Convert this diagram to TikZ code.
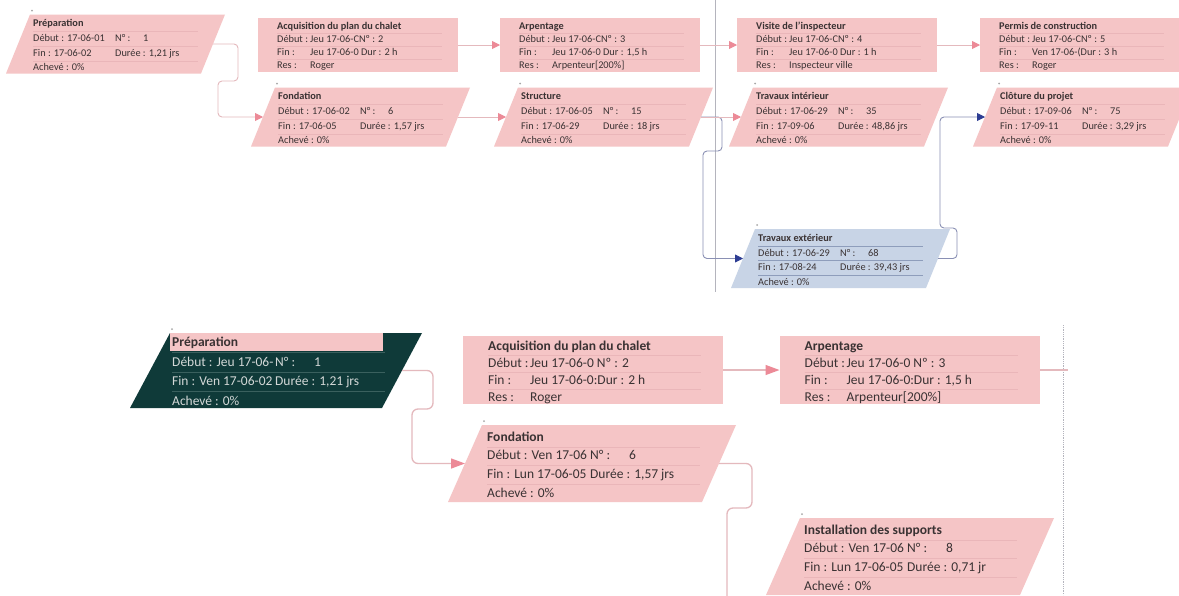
\documentclass[tikz,border=0pt]{standalone}
\usepackage{fontspec}
\setmainfont{Carlito}
\usepackage{colortbl}
\usetikzlibrary{positioning,arrows.meta}

\definecolor{rose}{HTML}{F5C5C6}
\definecolor{roseTrait}{HTML}{EAB6B9}
\definecolor{roseLien}{HTML}{E4B9BD}
\definecolor{roseFleche}{HTML}{EC8A97}
\definecolor{bleuBoite}{HTML}{C8D4E6}
\definecolor{bleuTrait}{HTML}{8E9DBB}
\definecolor{bleuLien}{HTML}{8A90B4}
\definecolor{bleuFleche}{HTML}{2D3D93}
\definecolor{vertFonce}{HTML}{0F3A39}
\definecolor{vertTrait}{HTML}{3A605E}
\definecolor{clair}{HTML}{D3D8D7}
\definecolor{texte}{HTML}{3A3233}
\definecolor{grisSaut}{HTML}{B4B4BD}
\setlength\arrayrulewidth{0.5pt}

% cellules des lignes
\newcommand\celD[1]{\makebox[82pt][l]{#1}}
\newcommand\celN[1]{\makebox[28pt][l]{#1}}
\newcommand\celDb[1]{\makebox[103pt][l]{#1}}
\newcommand\celNb[1]{\makebox[39pt][l]{#1}}
\newcommand\celL[1]{\makebox[33pt][l]{#1}}
\newcommand\celLb[1]{\makebox[42pt][l]{#1}}
\newcommand\lignesH[4]{\begin{tabular}{@{}p{165pt}@{}}\textbf{#1}\\\hline #2\\\hline #3\\\hline #4\end{tabular}}
\newcommand\lignesB[4]{\begin{tabular}{@{}p{213pt}@{}}\textbf{#1}\\\hline #2\\\hline #3\\\hline #4\end{tabular}}
\newcommand\parallelo[3]{%
  \fill[#3] ([xshift=-#2pt]#1.south west) -- ([xshift=#2pt]#1.north west)
    -- ([xshift=#2pt]#1.north east) -- ([xshift=-#2pt]#1.south east) -- cycle;}

\tikzset{
  boite/.style 2 args={minimum width=#1, minimum height=#2, inner sep=0pt, outer sep=0pt},
  rectH/.style={boite={200pt}{54pt}, fill=rose},
  paraH/.style={boite={195pt}{59pt}},
  rectB/.style={boite={260pt}{68pt}, fill=rose},
  paraB/.style={boite={254pt}{77pt}},
  texteH/.style={anchor=north west, inner sep=0pt, text=texte,
    font={\fontsize{10.3}{14.2}\selectfont}, execute at begin node={\arrayrulecolor{roseTrait}}},
  texteHr/.style={texteH, font={\fontsize{10.3}{12.5}\selectfont}},
  texteB/.style={texteH, font={\fontsize{13.5}{18.2}\selectfont}},
  texteBr/.style={texteH, font={\fontsize{13.5}{16.5}\selectfont}},
  repere/.style={fill=gray!70},
  lienH/.style={draw=roseLien, line width=0.9pt, rounded corners=4pt,
    -{Triangle[length=8pt,width=8pt,color=roseFleche]}},
  lienHb/.style={lienH, draw=bleuLien, -{Triangle[length=8pt,width=8pt,color=bleuFleche]}},
  traitB/.style={draw=roseLien, line width=1.3pt, rounded corners=6pt},
  lienB/.style={traitB, -{Triangle[length=14pt,width=10pt,color=roseFleche]}},
  saut/.style={draw=grisSaut, line width=0.8pt},
}

\begin{document}
\begin{tikzpicture}[x=1pt,y=-1pt]
\fill[white] (0,0) rectangle (1179,595);
\clip (0,0) rectangle (1179,595);

% diagramme du haut
\node[paraH] (prepA) at (115.5,44) {};
\node[rectH] (acqA) at (358,45) {};
\node[rectH] (arpA) at (600,45) {};
\node[rectH] (visA) at (837,45) {};
\node[rectH] (permA) at (1080,45) {};
\node[paraH] (fondA) at (360.5,117) {};
\node[paraH] (structA) at (603.5,117) {};
\node[paraH] (travIntA) at (838.5,117) {};
\node[paraH] (clotA) at (1082.5,117) {};
\node[paraH] (travExtA) at (840.5,258.5) {};

% diagramme du bas
\node[paraB, minimum width=252pt, minimum height=75pt] (prepB) at (276,370.5) {};
\node[rectB] (acqB) at (593,370) {};
\node[rectB] (arpB) at (909.5,370) {};
\node[paraB] (fondB) at (592,463.5) {};
\node[paraB] (instB) at (910,556.5) {};

\foreach \b/\d/\c in {prepA/12/rose,fondA/12/rose,structA/12/rose,travIntA/12/rose,
    clotA/12/rose,travExtA/12/bleuBoite,prepB/20/vertFonce,fondB/17/rose,instB/17/rose}
  \parallelo{\b}{\d}{\c};
\foreach \b/\d in {prepA/12,fondA/12,structA/12,travIntA/12,clotA/12,travExtA/12,prepB/20,fondB/17,instB/17}
  \fill[repere] ([shift={(\d+2,-4)}]\b.north west) circle (1pt);
\fill[rose] ([xshift=20pt]prepB.north west) rectangle ++(213,18);

% sauts de page
\draw[saut] (715,0) -- (715,292);
\draw[saut, densely dotted] (1063,325) -- (1063,595);

% textes du haut
\node[texteH] (prepA-t) at ([shift={(15,2.2)}]prepA.north west)
  {\lignesH{Préparation}{\celD{Début : 17-06-01}\celN{N° :}1}{\celD{Fin : 17-06-02}Durée : 1,21 jrs}{Achevé : 0\%}};
\node[texteHr] (acqA-t) at ([shift={(19,2.35)}]acqA.north west)
  {\lignesH{Acquisition du plan du chalet}{\celL{Début :}Jeu 17-06-CNº : 2}{\celL{Fin :}Jeu 17-06-0 Dur : 2 h}{\celL{Res :}Roger}};
\node[texteHr] (arpA-t) at ([shift={(19,2.35)}]arpA.north west)
  {\lignesH{Arpentage}{\celL{Début :}Jeu 17-06-CNº : 3}{\celL{Fin :}Jeu 17-06-0 Dur : 1,5 h}{\celL{Res :}Arpenteur[200\%]}};
\node[texteHr] (visA-t) at ([shift={(19,2.35)}]visA.north west)
  {\lignesH{Visite de l'inspecteur}{\celL{Début :}Jeu 17-06-CNº : 4}{\celL{Fin :}Jeu 17-06-0 Dur : 1 h}{\celL{Res :}Inspecteur ville}};
\node[texteHr] (permA-t) at ([shift={(19,2.35)}]permA.north west)
  {\lignesH{Permis de construction}{\celL{Début :}Jeu 17-06-CNº : 5}{\celL{Fin :}Ven 17-06-(Dur : 3 h}{\celL{Res :}Roger}};
\node[texteH] (fondA-t) at ([shift={(15,2.2)}]fondA.north west)
  {\lignesH{Fondation}{\celD{Début : 17-06-02}\celN{N° :}6}{\celD{Fin : 17-06-05}Durée : 1,57 jrs}{Achevé : 0\%}};
\node[texteH] (structA-t) at ([shift={(15,2.2)}]structA.north west)
  {\lignesH{Structure}{\celD{Début : 17-06-05}\celN{N° :}15}{\celD{Fin : 17-06-29}Durée : 18 jrs}{Achevé : 0\%}};
\node[texteH] (travIntA-t) at ([shift={(15,2.2)}]travIntA.north west)
  {\lignesH{Travaux intérieur}{\celD{Début : 17-06-29}\celN{N° :}35}{\celD{Fin : 17-09-06}Durée : 48,86 jrs}{Achevé : 0\%}};
\node[texteH] (clotA-t) at ([shift={(15,2.2)}]clotA.north west)
  {\lignesH{Clôture du projet}{\celD{Début : 17-09-06}\celN{N° :}75}{\celD{Fin : 17-09-11}Durée : 3,29 jrs}{Achevé : 0\%}};
\node[texteH, execute at begin node={\arrayrulecolor{bleuTrait}}] (travExtA-t) at ([shift={(15,2.2)}]travExtA.north west)
  {\lignesH{Travaux extérieur}{\celD{Début : 17-06-29}\celN{N° :}68}{\celD{Fin : 17-08-24}Durée : 39,43 jrs}{Achevé : 0\%}};

% textes du bas
\node[texteB, text=clair, font={\fontsize{13.5}{19}\selectfont}, execute at begin node={\arrayrulecolor{vertTrait}}]
  (prepB-t) at ([shift={(22,0)}]prepB.north west)
  {\lignesB{\textcolor{texte}{Préparation}}{\celDb{Début : Jeu 17-06-}\celNb{N° :}1}{\celDb{Fin : Ven 17-06-02}Durée : 1,21 jrs}{Achevé : 0\%}};
\node[texteBr] (acqB-t) at ([shift={(25,2.5)}]acqB.north west)
  {\lignesB{Acquisition du plan du chalet}{\celLb{Début :}Jeu 17-06-0 Nº : 2}{\celLb{Fin :}Jeu 17-06-0:Dur : 2 h}{\celLb{Res :}Roger}};
\node[texteBr] (arpB-t) at ([shift={(25,2.5)}]arpB.north west)
  {\lignesB{Arpentage}{\celLb{Début :}Jeu 17-06-0 Nº : 3}{\celLb{Fin :}Jeu 17-06-0:Dur : 1,5 h}{\celLb{Res :}Arpenteur[200\%]}};
\node[texteB] (fondB-t) at ([shift={(22,3.3)}]fondB.north west)
  {\lignesB{Fondation}{\celDb{Début : Ven 17-06}\celNb{N° :}6}{\celDb{Fin : Lun 17-06-05}Durée : 1,57 jrs}{Achevé : 0\%}};
\node[texteB] (instB-t) at ([shift={(21,3.3)}]instB.north west)
  {\lignesB{Installation des supports}{\celDb{Début : Ven 17-06}\celNb{N° :}8}{\celDb{Fin : Lun 17-06-05}Durée : 0,71 jr}{Achevé : 0\%}};

% liens du haut
\draw[lienH] (prepA.east) -- (238,44) -- (238,81) -- (218,81) -- (218,117) -- (fondA.west);
\draw[lienH] (acqA.east) -- (arpA.west);
\draw[lienH] (arpA.east) -- (visA.west);
\draw[lienH] (visA.east) -- (permA.west);
\draw[lienH] (fondA.east) -- (structA.west);
\draw[lienHb] (structA.east) -- (722,117) -- (722,151) -- (703,151) -- (703,258.5) -- (travExtA.west);
\draw[lienH] (structA.east) -- (travIntA.west);
\draw[lienHb] (travExtA.east) -- (957,258.5) -- (957,228) -- (940,228) -- (940,117) -- (clotA.west);

% liens du bas
\coordinate (arpSuite) at (1068,370);
\coordinate (fondSuite) at (727,600);
\draw[lienB] (prepB.east) -- (433,370.5) -- (433,409) -- (412,409) -- (412,463.5) -- (fondB.west);
\draw[lienB] (acqB.east) -- (arpB.west);
\draw[traitB] (arpB.east) -- (arpSuite);
\draw[traitB] (fondB.east) -- (752,463.5) -- (752,508) -- (727,508) -- (fondSuite);
\end{tikzpicture}
\end{document}
